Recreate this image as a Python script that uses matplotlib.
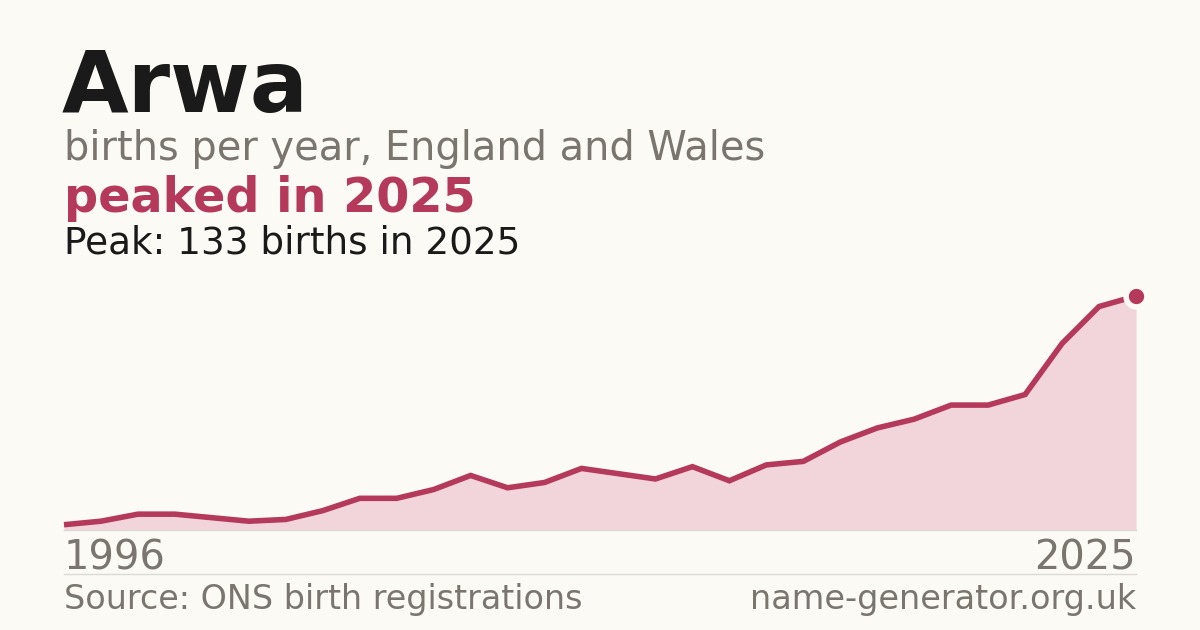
import matplotlib
matplotlib.use("Agg")
import matplotlib.pyplot as plt
from matplotlib.lines import Line2D

years = list(range(1996, 2026))
births = [3, 5, 9, 9, 7, 5, 6, 11, 18, 18, 23, 31, 24, 27, 35, 32, 29, 36, 28, 37,
          39, 50, 58, 63, 71, 71, 77, 106, 127, 133]

title = "Arwa"
subtitle = "births per year, England and Wales"
headline = "peaked in 2025"
peak_text = "Peak: 133 births in 2025"
source_text = "Source: ONS birth registrations"
site_text = "name-generator.org.uk"

BG = "#fbfaf5"
RED = "#b5395a"
FILL = "#f2d5da"
GREY = "#7a756e"
DARK = "#1a1a1a"
RULE = "#dddad3"

W, H = 1200, 630
fig = plt.figure(figsize=(W / 100, H / 100), dpi=100, facecolor=BG)

def fx(px):
    return px / W

def fy(py):
    return 1 - py / H

left, right, top, bottom = 64, 1136, 296, 530
ax = fig.add_axes([fx(left), fy(bottom), (right - left) / W, (bottom - top) / H])
ax.set_facecolor("none")
ax.set_xlim(years[0], years[-1])
ax.set_ylim(0, max(births))
ax.axis("off")

ax.fill_between(years, births, 0, color=FILL, lw=0, zorder=1)
ax.plot(years, births, color=RED, lw=4, solid_joinstyle="miter", solid_capstyle="butt",
        clip_on=False, zorder=2)
ax.plot([years[-1]], [births[-1]], marker="o", ms=15, mfc=RED, mec=BG, mew=4,
        clip_on=False, zorder=3)

# rules
fig.add_artist(Line2D([fx(left), fx(right)], [fy(530), fy(530)], color=RULE, lw=1))
fig.add_artist(Line2D([fx(left), fx(right)], [fy(574), fy(574)], color=RULE, lw=1))

fig.text(fx(62), fy(112), title, fontsize=62, fontweight="bold", color=DARK, va="baseline")
fig.text(fx(64), fy(160), subtitle, fontsize=28.7, color=GREY, va="baseline")
fig.text(fx(64), fy(212), headline, fontsize=34.4, fontweight="bold", color=RED, va="baseline")
fig.text(fx(64), fy(253), peak_text, fontsize=26.9, color=DARK, va="baseline")

fig.text(fx(64), fy(569), str(years[0]), fontsize=28.8, color=GREY, va="baseline")
fig.text(fx(1136), fy(569), str(years[-1]), fontsize=28.8, color=GREY, va="baseline", ha="right")
fig.text(fx(64), fy(609), source_text, fontsize=24.0, color=GREY, va="baseline")
fig.text(fx(1136), fy(609), site_text, fontsize=24.1, color=GREY, va="baseline", ha="right")

fig.savefig("out.png", dpi=100, facecolor=BG)
